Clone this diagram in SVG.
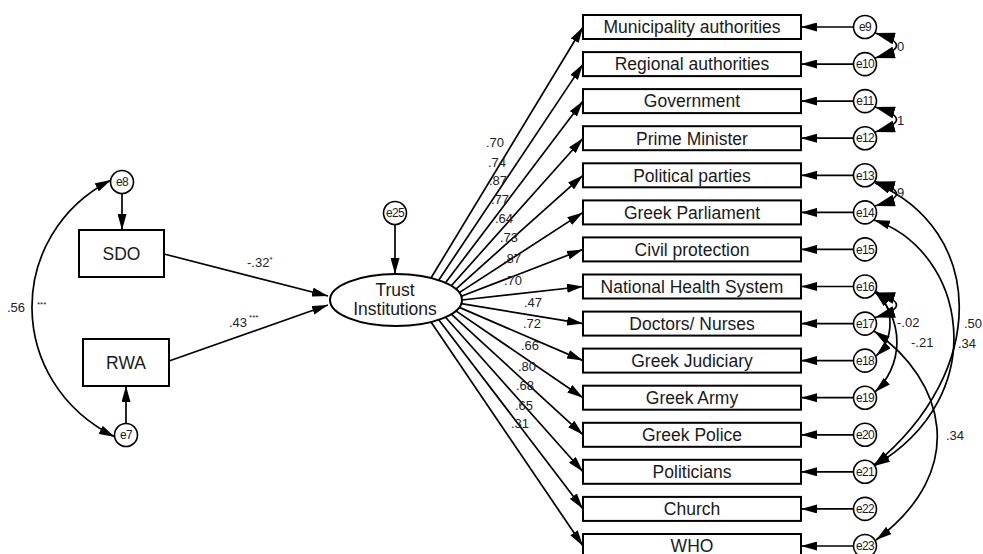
<svg xmlns="http://www.w3.org/2000/svg" width="983" height="554" viewBox="0 0 983 554">
<defs>
<marker id="ah" viewBox="0 0 16 9" refX="16" refY="4.5" markerWidth="16" markerHeight="9" markerUnits="userSpaceOnUse" orient="auto-start-reverse">
<path d="M0,0 L16,4.5 L0,9 z" fill="#000"/>
</marker>
<marker id="ahb" viewBox="0 0 20 12" refX="20" refY="6" markerWidth="20" markerHeight="12" markerUnits="userSpaceOnUse" orient="auto-start-reverse">
<path d="M0,0 L20,6 L0,12 z" fill="#000"/>
</marker>
</defs>
<style>
.box{fill:#fff;stroke:#000;stroke-width:2}
.err{fill:#fff;stroke:#000;stroke-width:1.6}
.bt{font-family:"Liberation Sans",Arial,sans-serif;font-size:17.5px;fill:#1a1a1a;text-anchor:middle}
.et{font-family:"Liberation Sans",Arial,sans-serif;font-size:12px;letter-spacing:-0.6px;fill:#1a1a1a;text-anchor:middle}
.lb{font-family:"Liberation Sans",Arial,sans-serif;font-size:13px;fill:#222}
.lbc{font-family:"Liberation Sans",Arial,sans-serif;font-size:13px;fill:#222;text-anchor:middle}
.ln{fill:none;stroke:#000;stroke-width:1.7}
.one{marker-end:url(#ah)}
.two{marker-start:url(#ah);marker-end:url(#ah)}
.bow{marker-start:url(#ahb);marker-end:url(#ahb)}
</style>
<rect width="983" height="554" fill="#fff"/>

<g id="connectors">
<path class="ln two" d="M111,180 C5,235 5,382 115,437"/>
<line class="ln one" x1="122" y1="193.5" x2="122" y2="230"/>
<line class="ln one" x1="126" y1="423.5" x2="126" y2="386"/>
<line class="ln one" x1="164" y1="254" x2="328" y2="296"/>
<line class="ln one" x1="169" y1="361" x2="328" y2="305"/>
<line class="ln one" x1="395" y1="224.5" x2="395" y2="274"/>
<line class="ln one" x1="431" y1="278" x2="583" y2="27"/>
<line class="ln one" x1="438.7" y1="280.2" x2="583" y2="64.1"/>
<line class="ln one" x1="445.5" y1="282.8" x2="583" y2="101.1"/>
<line class="ln one" x1="451.3" y1="285.8" x2="583" y2="138.2"/>
<line class="ln one" x1="455.9" y1="289.1" x2="583" y2="175.3"/>
<line class="ln one" x1="459.3" y1="292.6" x2="583" y2="212.4"/>
<line class="ln one" x1="461.3" y1="296.3" x2="583" y2="249.4"/>
<line class="ln one" x1="462" y1="300" x2="583" y2="286.5"/>
<line class="ln one" x1="461.3" y1="303.7" x2="583" y2="323.6"/>
<line class="ln one" x1="459.3" y1="307.4" x2="583" y2="360.6"/>
<line class="ln one" x1="455.9" y1="310.9" x2="583" y2="397.7"/>
<line class="ln one" x1="451.3" y1="314.2" x2="583" y2="434.8"/>
<line class="ln one" x1="445.5" y1="317.2" x2="583" y2="471.8"/>
<line class="ln one" x1="438.7" y1="319.8" x2="583" y2="508.9"/>
<line class="ln one" x1="431" y1="322" x2="583" y2="546"/>
<line class="ln one" x1="853.5" y1="27" x2="801" y2="27"/>
<line class="ln one" x1="853.5" y1="64.1" x2="801" y2="64.1"/>
<line class="ln one" x1="853.5" y1="101.1" x2="801" y2="101.1"/>
<line class="ln one" x1="853.5" y1="138.2" x2="801" y2="138.2"/>
<line class="ln one" x1="853.5" y1="175.3" x2="801" y2="175.3"/>
<line class="ln one" x1="853.5" y1="212.4" x2="801" y2="212.4"/>
<line class="ln one" x1="853.5" y1="249.4" x2="801" y2="249.4"/>
<line class="ln one" x1="853.5" y1="286.5" x2="801" y2="286.5"/>
<line class="ln one" x1="853.5" y1="323.6" x2="801" y2="323.6"/>
<line class="ln one" x1="853.5" y1="360.6" x2="801" y2="360.6"/>
<line class="ln one" x1="853.5" y1="397.7" x2="801" y2="397.7"/>
<line class="ln one" x1="853.5" y1="434.8" x2="801" y2="434.8"/>
<line class="ln one" x1="853.5" y1="471.8" x2="801" y2="471.8"/>
<line class="ln one" x1="853.5" y1="508.9" x2="801" y2="508.9"/>
<line class="ln one" x1="853.5" y1="546" x2="801" y2="546"/>
<path class="ln bow" d="M875,33 Q918,45.5 875,58"/>
<path class="ln bow" d="M875,107 Q918,119.6 875,132"/>
<path class="ln bow" d="M875,181.5 Q918,193.8 875,206"/>
<path class="ln bow" d="M875,292.5 Q918,305 875,317.5"/>
<path class="ln two" d="M876,291 A44.7,44.7 0 0 1 876,356"/>
<path class="ln two" d="M875,292 A68,68 0 0 1 875,392"/>
<path class="ln two" d="M874,331 C945,380 970,470 876,540"/>
<path class="ln two" d="M875,183 C985,230 990,370 874,465"/>
<path class="ln two" d="M874,220 C965,250 995,395 874,466"/>
</g>

<g id="labels">
<text class="lb" x="7" y="312">.56</text>
<text class="lb" x="37" y="307" style="font-size:8px">***</text>
<text class="lb" x="247" y="267">-.32<tspan style="font-size:8px" dy="-5">*</tspan></text>
<text class="lb" x="229" y="327">.43<tspan style="font-size:8px" dy="-7" dx="2">***</tspan></text>
<text class="lbc" x="495" y="147">.70</text>
<text class="lbc" x="497" y="167">.74</text>
<text class="lbc" x="498" y="185">.87</text>
<text class="lbc" x="500" y="204">.77</text>
<text class="lbc" x="504" y="223">.64</text>
<text class="lbc" x="509" y="242">.73</text>
<text class="lbc" x="512" y="263">.87</text>
<text class="lbc" x="513" y="285">.70</text>
<text class="lbc" x="533" y="307">.47</text>
<text class="lbc" x="532" y="328">.72</text>
<text class="lbc" x="530" y="350">.66</text>
<text class="lbc" x="527" y="371">.80</text>
<text class="lbc" x="525" y="390">.68</text>
<text class="lbc" x="524" y="410">.65</text>
<text class="lbc" x="520" y="428">.31</text>
<text class="lb" x="897" y="51">0</text>
<text class="lb" x="897" y="125">1</text>
<text class="lb" x="897" y="197">9</text>
<text class="lb" x="897" y="327">-.02</text>
<text class="lb" x="911" y="347">-.21</text>
<text class="lb" x="964" y="328">.50</text>
<text class="lb" x="958" y="348">.34</text>
<text class="lb" x="946" y="440">.34</text>
</g>

<g id="SDO"><rect class="box" x="79" y="230" width="85" height="47"/><text class="bt" x="121.5" y="259.5">SDO</text></g>
<g id="RWA"><rect class="box" x="83" y="339" width="86" height="47"/><text class="bt" x="126" y="368.5">RWA</text></g>
<g id="e8"><circle class="err" cx="122" cy="182" r="11.5"/><text class="et" x="122" y="186.2">e8</text></g>
<g id="e7"><circle class="err" cx="126" cy="435" r="11.5"/><text class="et" x="126" y="439.2">e7</text></g>
<g id="e25"><circle class="err" cx="395" cy="213" r="11.5"/><text class="et" x="395" y="217.2">e25</text></g>
<g id="TrustInstitutions"><ellipse cx="396" cy="300" rx="66" ry="26" fill="#fff" stroke="#000" stroke-width="2"/><text class="bt" x="395" y="296">Trust</text><text class="bt" x="395" y="315">Institutions</text></g>

<g id="n1"><rect class="box" x="583" y="15" width="218" height="24"/><text class="bt" x="692" y="33.3">Municipality authorities</text></g>
<g id="n2"><rect class="box" x="583" y="52.1" width="218" height="24"/><text class="bt" x="692" y="70.4">Regional authorities</text></g>
<g id="n3"><rect class="box" x="583" y="89.1" width="218" height="24"/><text class="bt" x="692" y="107.4">Government</text></g>
<g id="n4"><rect class="box" x="583" y="126.2" width="218" height="24"/><text class="bt" x="692" y="144.5">Prime Minister</text></g>
<g id="n5"><rect class="box" x="583" y="163.3" width="218" height="24"/><text class="bt" x="692" y="181.6">Political parties</text></g>
<g id="n6"><rect class="box" x="583" y="200.4" width="218" height="24"/><text class="bt" x="692" y="218.7">Greek Parliament</text></g>
<g id="n7"><rect class="box" x="583" y="237.4" width="218" height="24"/><text class="bt" x="692" y="255.7">Civil protection</text></g>
<g id="n8"><rect class="box" x="583" y="274.5" width="218" height="24"/><text class="bt" x="692" y="292.8">National Health System</text></g>
<g id="n9"><rect class="box" x="583" y="311.6" width="218" height="24"/><text class="bt" x="692" y="329.9">Doctors/ Nurses</text></g>
<g id="n10"><rect class="box" x="583" y="348.6" width="218" height="24"/><text class="bt" x="692" y="366.9">Greek Judiciary</text></g>
<g id="n11"><rect class="box" x="583" y="385.7" width="218" height="24"/><text class="bt" x="692" y="404">Greek Army</text></g>
<g id="n12"><rect class="box" x="583" y="422.8" width="218" height="24"/><text class="bt" x="692" y="441.1">Greek Police</text></g>
<g id="n13"><rect class="box" x="583" y="459.8" width="218" height="24"/><text class="bt" x="692" y="478.1">Politicians</text></g>
<g id="n14"><rect class="box" x="583" y="496.9" width="218" height="24"/><text class="bt" x="692" y="515.2">Church</text></g>
<g id="n15"><rect class="box" x="583" y="534" width="218" height="24"/><text class="bt" x="692" y="551.5">WHO</text></g>

<g id="e9"><circle class="err" cx="865" cy="27" r="11.5"/><text class="et" x="865" y="31.2">e9</text></g>
<g id="e10"><circle class="err" cx="865" cy="64.1" r="11.5"/><text class="et" x="865" y="68.3">e10</text></g>
<g id="e11"><circle class="err" cx="865" cy="101.1" r="11.5"/><text class="et" x="865" y="105.3">e11</text></g>
<g id="e12"><circle class="err" cx="865" cy="138.2" r="11.5"/><text class="et" x="865" y="142.4">e12</text></g>
<g id="e13"><circle class="err" cx="865" cy="175.3" r="11.5"/><text class="et" x="865" y="179.5">e13</text></g>
<g id="e14"><circle class="err" cx="865" cy="212.4" r="11.5"/><text class="et" x="865" y="216.6">e14</text></g>
<g id="e15"><circle class="err" cx="865" cy="249.4" r="11.5"/><text class="et" x="865" y="253.6">e15</text></g>
<g id="e16"><circle class="err" cx="865" cy="286.5" r="11.5"/><text class="et" x="865" y="290.7">e16</text></g>
<g id="e17"><circle class="err" cx="865" cy="323.6" r="11.5"/><text class="et" x="865" y="327.8">e17</text></g>
<g id="e18"><circle class="err" cx="865" cy="360.6" r="11.5"/><text class="et" x="865" y="364.8">e18</text></g>
<g id="e19"><circle class="err" cx="865" cy="397.7" r="11.5"/><text class="et" x="865" y="401.9">e19</text></g>
<g id="e20"><circle class="err" cx="865" cy="434.8" r="11.5"/><text class="et" x="865" y="439">e20</text></g>
<g id="e21"><circle class="err" cx="865" cy="471.8" r="11.5"/><text class="et" x="865" y="476">e21</text></g>
<g id="e22"><circle class="err" cx="865" cy="508.9" r="11.5"/><text class="et" x="865" y="513.1">e22</text></g>
<g id="e23"><circle class="err" cx="865" cy="546" r="11.5"/><text class="et" x="865" y="550.2">e23</text></g>
</svg>
